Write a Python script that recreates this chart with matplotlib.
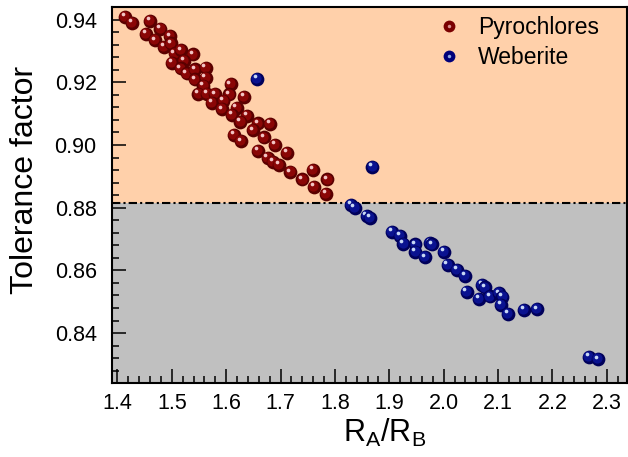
import matplotlib.pyplot as plt
from matplotlib.lines import Line2D
from matplotlib.legend_handler import HandlerTuple
from matplotlib.transforms import offset_copy
from matplotlib.ticker import MultipleLocator, FormatStrFormatter

plt.rcParams['font.family'] = ['Liberation Sans', 'DejaVu Sans']
plt.rcParams['mathtext.default'] = 'regular'

# pyrochlores (R_A/R_B, tolerance factor)
pyro_x = [1.414, 1.427, 1.460, 1.453, 1.479, 1.469, 1.497, 1.485, 1.499, 1.505,
          1.517, 1.539, 1.500, 1.522, 1.516, 1.527, 1.542, 1.562, 1.543, 1.562,
          1.558, 1.608, 1.549, 1.565, 1.580, 1.606, 1.632, 1.574, 1.595, 1.592,
          1.619, 1.611, 1.638, 1.626, 1.658, 1.680, 1.649, 1.614, 1.627, 1.670,
          1.690, 1.712, 1.658, 1.676, 1.686, 1.697, 1.718, 1.759, 1.740, 1.786,
          1.761, 1.783]
pyro_y = [0.9408, 0.9389, 0.9396, 0.9355, 0.9371, 0.9334, 0.9347, 0.9313, 0.9324, 0.9292,
          0.9302, 0.9289, 0.9262, 0.9268, 0.9244, 0.9228, 0.9241, 0.9246, 0.9209, 0.9215,
          0.9189, 0.9194, 0.9164, 0.9164, 0.9162, 0.9161, 0.9153, 0.9134, 0.9141, 0.9114,
          0.9118, 0.9097, 0.9092, 0.9074, 0.9069, 0.9067, 0.9047, 0.9032, 0.9012, 0.9024,
          0.9000, 0.8975, 0.8981, 0.8960, 0.8947, 0.8936, 0.8913, 0.8920, 0.8890, 0.8890,
          0.8867, 0.8844]

# weberites
web_x = [1.657, 1.869, 1.829, 1.836, 1.858, 1.865, 1.905, 1.919, 1.926, 1.948,
         1.948, 1.965, 1.975, 1.979, 2.000, 2.007, 2.024, 2.039, 2.042, 2.070,
         2.076, 2.065, 2.085, 2.101, 2.108, 2.105, 2.118, 2.148, 2.171, 2.267,
         2.284]
web_y = [0.9210, 0.8930, 0.8809, 0.8799, 0.8775, 0.8767, 0.8724, 0.8710, 0.8684, 0.8683,
         0.8660, 0.8642, 0.8689, 0.8683, 0.8660, 0.8618, 0.8602, 0.8582, 0.8531, 0.8554,
         0.8546, 0.8509, 0.8517, 0.8527, 0.8515, 0.8490, 0.8461, 0.8474, 0.8476, 0.8324,
         0.8317]

t_limit = 0.8815

fig = plt.figure(figsize=(6.28, 4.57), dpi=100)
ax = fig.add_axes([112 / 628, 1 - 383.3 / 457, 515 / 628, 376.3 / 457])
ax.set_xlim(1.39, 2.337)
ax.set_ylim(0.824, 0.944)

ax.axhspan(t_limit, 0.944, color='#FFD0AA', zorder=0, lw=0)
ax.axhspan(0.824, t_limit, color='#C0C0C0', zorder=0, lw=0)
ax.axhline(t_limit, color='black', lw=1.5, dashes=(4, 1.5, 1, 1.5), zorder=1)


def balls(xs, ys, dark, mid, light, z0):
    # fake 3d shading: dark sphere, lighter core, small highlight up-left
    core = offset_copy(ax.transData, fig=fig, x=-0.6, y=0.6, units='points')
    hi = offset_copy(ax.transData, fig=fig, x=-1.5, y=1.9, units='points')
    for i, (x, y) in enumerate(zip(xs, ys)):
        z = z0 + i * 0.01
        ax.scatter([x], [y], s=98, color=dark, lw=0, zorder=z)
        ax.scatter([x], [y], s=54, color=mid, lw=0, zorder=z + 0.001, transform=core)
        ax.scatter([x], [y], s=7, color=light, lw=0, zorder=z + 0.002, transform=hi)


balls(pyro_x, pyro_y, '#5a0000', '#8a0606', '#f2c4c4', 2)
balls(web_x, web_y, '#00005a', '#0a1290', '#c8d8f5', 3)

ax.xaxis.set_major_locator(MultipleLocator(0.1))
ax.xaxis.set_minor_locator(MultipleLocator(0.02))
ax.yaxis.set_major_locator(MultipleLocator(0.02))
ax.yaxis.set_minor_locator(MultipleLocator(0.004))
ax.xaxis.set_major_formatter(FormatStrFormatter('%.1f'))
ax.yaxis.set_major_formatter(FormatStrFormatter('%.2f'))
ax.tick_params(which='both', direction='in', top=False, right=False, width=1.1,
               labelsize=15.5)
ax.tick_params(which='major', length=10)
ax.tick_params(which='minor', length=5)
ax.tick_params(axis='x', which='major', pad=7)
ax.tick_params(axis='y', which='major', pad=11)
for sp in ax.spines.values():
    sp.set_linewidth(1.5)
    sp.set_zorder(10)

ax.set_xlabel('R$_A$/R$_B$', fontsize=22)
ax.set_ylabel('Tolerance factor', fontsize=23)
ax.xaxis.set_label_coords(0.53, -0.088)
ax.yaxis.set_label_coords(-0.14, 0.54)

h_pyro = (Line2D([], [], ls='', marker='o', ms=8.5, mfc='#7a0000', mec='none'),
          Line2D([], [], ls='', marker='o', ms=2.5, mfc='#d89090', mec='none'))
h_web = (Line2D([], [], ls='', marker='o', ms=8.5, mfc='#00007a', mec='none'),
         Line2D([], [], ls='', marker='o', ms=2.5, mfc='#90a8e0', mec='none'))
ax.legend([h_pyro, h_web], ['Pyrochlores', 'Weberite'],
          handler_map={tuple: HandlerTuple(ndivide=1, pad=0)},
          loc='upper right', bbox_to_anchor=(0.985, 1.03), frameon=False,
          fontsize=16.5, handletextpad=0.6, labelspacing=0.3, handlelength=1.3)

fig.savefig('out.png', dpi=100)
